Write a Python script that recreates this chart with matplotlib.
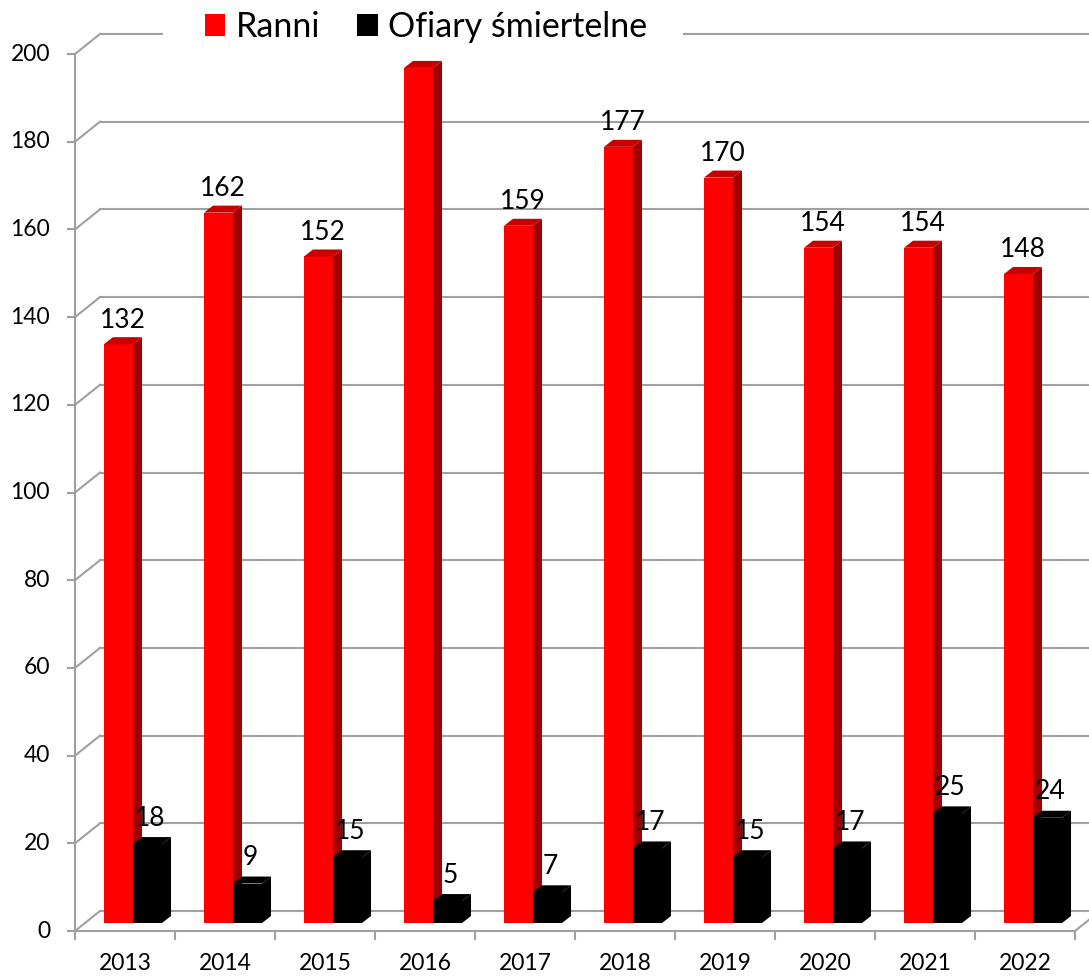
import matplotlib.pyplot as plt
from matplotlib.patches import Polygon, Patch, Rectangle

plt.rcParams['font.family'] = ['Lato', 'DejaVu Sans']

years = ['2013', '2014', '2015', '2016', '2017', '2018', '2019', '2020', '2021', '2022']
ranni = [132, 162, 152, 195, 159, 177, 170, 154, 154, 148]
ofiary = [18, 9, 15, 5, 7, 17, 15, 17, 25, 24]
y_ticks = [0, 20, 40, 60, 80, 100, 120, 140, 160, 180, 200]

# pixel scale: 100 px per category, 4.385 px per unit
px_y = 4.385
wall_dx, wall_dy = 0.25, 20 / px_y      # depth of back wall
bar_dx, bar_dy = 0.09, 7 / px_y         # depth of a bar
bar_y0 = 8 / px_y                       # bars sit a little into the floor
bar_w = 0.29
grid_col = '#a0a0a0'

fig = plt.figure(figsize=(10.89, 9.76), dpi=100)
ax = fig.add_axes([0, 0, 1, 1])
ax.set_xlim(-1.25, -1.25 + 10.89)
ax.set_ylim(-45 / px_y, 931 / px_y)
ax.axis('off')

n = len(years)

# back wall gridlines + left diagonals + tick marks
for v in y_ticks:
    ax.plot([-0.5, -0.5 + wall_dx], [v, v + wall_dy], color=grid_col, lw=1.5, zorder=1)
    ax.plot([-0.5 + wall_dx, 20], [v + wall_dy, v + wall_dy], color=grid_col, lw=1.5, zorder=1)
    ax.plot([-0.57, -0.5], [v, v], color=grid_col, lw=1.5, zorder=1)
    ax.text(-0.75, v, str(v), ha='right', va='center', fontsize=16.5)

# front left axis and floor
ax.plot([-0.5, -0.5], [0, 200], color=grid_col, lw=1.5, zorder=1)
ax.plot([-0.5, n - 0.5], [0, 0], color=grid_col, lw=1.5, zorder=1)
ax.plot([n - 0.5, n - 0.5 + wall_dx], [0, wall_dy], color=grid_col, lw=1.5, zorder=1)
for i in range(n + 1):
    ax.plot([i - 0.5, i - 0.5], [0, -1.9], color=grid_col, lw=1.5, zorder=1)
for i, yr in enumerate(years):
    ax.text(i, -7.3, yr, ha='center', va='center', fontsize=16.5)

# legend area blanks the top gridline
fig.patches.append(Rectangle((163 / 1089, 1 - 42 / 976), 520 / 1089, 16 / 976,
                             transform=fig.transFigure, facecolor='white', lw=0, zorder=1.5))


def bar3d(x, v, front, side, top):
    ax.bar(x, v, width=bar_w, bottom=bar_y0, align='edge', color=front, lw=0, zorder=2)
    b, t, r = bar_y0, bar_y0 + v, x + bar_w
    ax.add_patch(Polygon([(r, b), (r + bar_dx, b + bar_dy), (r + bar_dx, t + bar_dy), (r, t)],
                         closed=True, facecolor=side, lw=0, zorder=2))
    ax.add_patch(Polygon([(x, t), (x + bar_dx, t + bar_dy), (r + bar_dx, t + bar_dy), (r, t)],
                         closed=True, facecolor=top, lw=0, zorder=2))


for i in range(n):
    bar3d(i - 0.21, ranni[i], '#ff0000', '#a00000', '#c80000')
    bar3d(i + 0.08, ofiary[i], '#000000', '#000000', '#000000')

for i in range(n):
    # the label of the tallest bar sits under the legend in the original
    if ranni[i] < 190:
        ax.text(i - 0.02, bar_y0 + ranni[i] + bar_dy + 2.2, str(ranni[i]),
                ha='center', va='baseline', fontsize=19, zorder=4)
    ax.text(i + 0.255, bar_y0 + ofiary[i] + bar_dy + 2.6, str(ofiary[i]),
            ha='center', va='baseline', fontsize=19, zorder=4)

handles = [Patch(facecolor='#ff0000', label='Ranni'),
           Patch(facecolor='#000000', label='Ofiary śmiertelne')]
leg = fig.legend(handles=handles, loc='center', bbox_to_anchor=(426 / 1089, 1 - 27 / 976),
                 ncol=2, frameon=False, fontsize=24.5, handlelength=0.6, handleheight=0.6,
                 handletextpad=0.3, columnspacing=1.1, borderpad=0.3, borderaxespad=0)
leg.set_zorder(10)

fig.savefig('out.png', dpi=100)
